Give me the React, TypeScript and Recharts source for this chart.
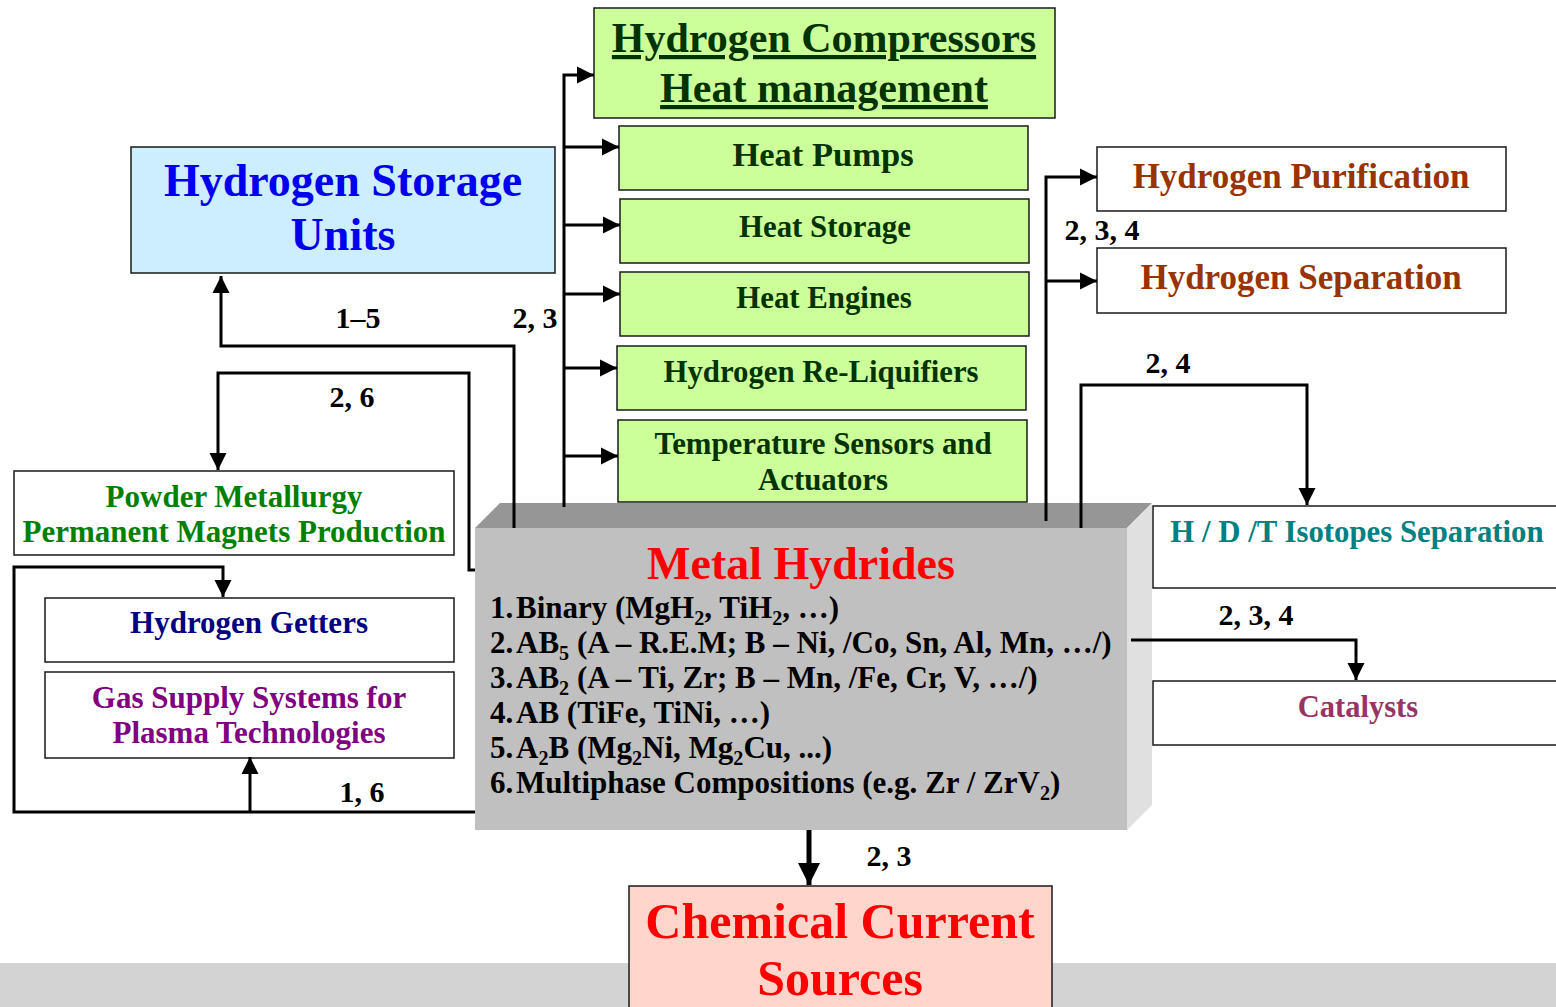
import React from 'react';
import { ComposedChart, XAxis, YAxis, ReferenceArea, ReferenceDot, Line } from 'recharts';

const W = 1556;
const H = 1007;
const FONT = "'Liberation Serif', 'Times New Roman', Times, serif";

type Pt = [number, number];

// boxes in page coordinates
const boxes = [
  { key: 'compressors', x1: 594, y1: 8, x2: 1055, y2: 118 },
  { key: 'heatPumps', x1: 619, y1: 126, x2: 1028, y2: 190 },
  { key: 'heatStorage', x1: 620, y1: 199, x2: 1029, y2: 263 },
  { key: 'heatEngines', x1: 620, y1: 272, x2: 1029, y2: 336 },
  { key: 'reLiquifiers', x1: 617, y1: 346, x2: 1026, y2: 410 },
  { key: 'sensors', x1: 618, y1: 420, x2: 1027, y2: 502 },
  { key: 'storage', x1: 131, y1: 147, x2: 555, y2: 273 },
  { key: 'purification', x1: 1097, y1: 147, x2: 1506, y2: 211 },
  { key: 'separation', x1: 1097, y1: 248, x2: 1506, y2: 313 },
  { key: 'powder', x1: 14, y1: 471, x2: 454, y2: 555 },
  { key: 'getters', x1: 45, y1: 598, x2: 454, y2: 662 },
  { key: 'gasSupply', x1: 45, y1: 672, x2: 454, y2: 758 },
  { key: 'isotopes', x1: 1153, y1: 506, x2: 1580, y2: 588 },
  { key: 'catalysts', x1: 1153, y1: 681, x2: 1580, y2: 745 },
  { key: 'chemical', x1: 629, y1: 886, x2: 1052, y2: 1030 },
];

const hydrideBox = { x1: 475, y1: 528, x2: 1127, y2: 830 };
const bottomBand = { y1: 963, y2: 1007 };

// polylines; the last point is the arrow tip
const connectors: Pt[][] = [
  [[514, 528], [514, 346], [221, 346], [221, 276]],
  [[475, 570], [469, 570], [469, 373], [218, 373], [218, 470]],
  [[564, 507], [564, 75], [594, 75]],
  [[564, 147], [619, 147]],
  [[564, 225], [620, 225]],
  [[564, 294], [620, 294]],
  [[564, 368], [617, 368]],
  [[564, 456], [618, 456]],
  [[1046, 521], [1046, 177], [1097, 177]],
  [[1046, 281], [1097, 281]],
  [[1081, 528], [1081, 385], [1307, 385], [1307, 505]],
  [[1131, 640], [1356, 640], [1356, 680]],
  [[475, 812], [14, 812], [14, 567], [223, 567], [223, 597]],
  [[250, 812], [250, 757]],
];
const outlet: Pt[] = [[809, 830], [809, 885]];

const labels = [
  { group: 'compressors', text: 'Hydrogen Compressors', x: 824, y: 52 },
  { group: 'compressors', text: 'Heat management', x: 824, y: 102 },
  { group: 'heatPumps', text: 'Heat Pumps', x: 823, y: 166 },
  { group: 'heat', text: 'Heat Storage', x: 825, y: 237 },
  { group: 'heat', text: 'Heat Engines', x: 824, y: 308 },
  { group: 'heat', text: 'Hydrogen Re-Liquifiers', x: 821, y: 382 },
  { group: 'heat', text: 'Temperature Sensors and', x: 823, y: 454 },
  { group: 'heat', text: 'Actuators', x: 823, y: 490 },
  { group: 'storage', text: 'Hydrogen Storage', x: 343, y: 196 },
  { group: 'storage', text: 'Units', x: 343, y: 250 },
  { group: 'purify', text: 'Hydrogen Purification', x: 1301, y: 188 },
  { group: 'purify', text: 'Hydrogen Separation', x: 1301, y: 289 },
  { group: 'powder', text: 'Powder Metallurgy', x: 234, y: 507 },
  { group: 'powder', text: 'Permanent Magnets Production', x: 234, y: 542 },
  { group: 'getters', text: 'Hydrogen Getters', x: 249, y: 633 },
  { group: 'gas', text: 'Gas Supply Systems for', x: 249, y: 708 },
  { group: 'gas', text: 'Plasma Technologies', x: 249, y: 743 },
  { group: 'isotopes', text: 'H / D /T Isotopes Separation', x: 1357, y: 542 },
  { group: 'catalysts', text: 'Catalysts', x: 1358, y: 717 },
  { group: 'chemical', text: 'Chemical Current', x: 840, y: 938 },
  { group: 'chemical', text: 'Sources', x: 840, y: 995 },
  { group: 'hydrides', text: 'Metal Hydrides', x: 801, y: 579 },
];

const routeLabels = [
  { text: '1–5', x: 358, y: 328 },
  { text: '2, 3', x: 535, y: 328 },
  { text: '2, 6', x: 352, y: 407 },
  { text: '1, 6', x: 362, y: 802 },
  { text: '2, 3, 4', x: 1102, y: 240 },
  { text: '2, 4', x: 1168, y: 373 },
  { text: '2, 3, 4', x: 1256, y: 625 },
  { text: '2, 3', x: 889, y: 866 },
];

// "_n" marks a subscript
const hydrideClasses = [
  'Binary (MgH_2, TiH_2, …)',
  'AB_5 (A – R.E.M; B – Ni, /Co, Sn, Al, Mn, …/)',
  'AB_2 (A – Ti, Zr; B – Mn, /Fe, Cr, V, …/)',
  'AB (TiFe, TiNi, …)',
  'A_2B (Mg_2Ni, Mg_2Cu, ...)',
  'Multiphase Compositions (e.g. Zr / ZrV_2)',
];

const boxFill: Record<string, string> = {
  storage: '#cceeff',
  chemical: '#ffd5cc',
};
const greenBoxes = ['compressors', 'heatPumps', 'heatStorage', 'heatEngines', 'reLiquifiers', 'sensors'];

const groupStyle: Record<string, { size: number; color: string; underline?: boolean }> = {
  compressors: { size: 42, color: '#003300', underline: true },
  heatPumps: { size: 34.5, color: '#003300' },
  heat: { size: 30.8, color: '#003300' },
  storage: { size: 46, color: '#0000ee' },
  purify: { size: 35, color: '#993300' },
  powder: { size: 31, color: '#008000' },
  getters: { size: 31, color: '#000080' },
  gas: { size: 31, color: '#800080' },
  isotopes: { size: 30.8, color: '#008080' },
  catalysts: { size: 30.5, color: '#993366' },
  chemical: { size: 50, color: '#ff0000' },
  hydrides: { size: 46, color: '#ff0000' },
};

const rich = (s: string, size: number) => {
  const parts = s.split(/_(\d)/);
  const shift = size * 0.22;
  return parts.map((p, i) =>
    i % 2 ? (
      <tspan key={i} fontSize={size * 0.65} dy={shift}>{p}</tspan>
    ) : (
      <tspan key={i} dy={i > 0 ? -shift : 0}>{p}</tspan>
    ),
  );
};

const arrowHead = (tip: Pt, prev: Pt, len: number, half: number, key: string) => {
  const dx = tip[0] - prev[0];
  const dy = tip[1] - prev[1];
  const d = Math.hypot(dx, dy) || 1;
  const ux = dx / d;
  const uy = dy / d;
  return (cx: number, cy: number) => {
    const bx = cx - ux * len;
    const by = cy - uy * len;
    const pts = `${cx},${cy} ${bx - uy * half},${by + ux * half} ${bx + uy * half},${by - ux * half}`;
    return <polygon key={key} points={pts} fill="#000" />;
  };
};

const hydrideShape = (p: any) => {
  const { x, y, width, height } = p;
  const d = 25;
  return (
    <g>
      <polygon points={`${x},${y} ${x + d},${y - d} ${x + width + d},${y - d} ${x + width},${y}`} fill="#969696" />
      <polygon
        points={`${x + width},${y} ${x + width + d},${y - d} ${x + width + d},${y + height - d} ${x + width},${y + height}`}
        fill="#e0e0e0"
      />
      <rect x={x} y={y} width={width} height={height} fill="#c0c0c0" />
    </g>
  );
};

const renderConnector = (pts: Pt[], i: number, heavy: boolean) => {
  const data = pts.map(([x, y]) => ({ x, y }));
  const last = pts.length - 1;
  const head = arrowHead(pts[last], pts[last - 1], heavy ? 22 : 17, heavy ? 11 : 8.5, `h${i}`);
  return (
    <Line
      key={`c${i}`}
      data={data}
      dataKey="y"
      type="linear"
      stroke="#000"
      strokeWidth={heavy ? 5 : 3}
      strokeLinejoin="miter"
      isAnimationActive={false}
      activeDot={false}
      legendType="none"
      dot={(p: any) => (p.index === last ? head(p.cx, p.cy) : <g key={`d${i}-${p.index}`} />)}
    />
  );
};

export default function App() {
  return (
    <div style={{ position: 'absolute', left: 0, top: 0, width: W, height: H, background: '#fff', overflow: 'hidden' }}>
      <ComposedChart width={W} height={H} margin={{ top: 0, right: 0, bottom: 0, left: 0 }}>
        <XAxis type="number" dataKey="x" domain={[0, W]} allowDataOverflow hide />
        <YAxis type="number" dataKey="y" domain={[0, H]} allowDataOverflow reversed hide />
        <ReferenceArea
          x1={0}
          x2={W}
          y1={bottomBand.y1}
          y2={bottomBand.y2}
          fill="#d3d3d3"
          fillOpacity={1}
          stroke="none"
          ifOverflow="visible"
        />
        {boxes.map((b) => (
          <ReferenceArea
            key={b.key}
            x1={b.x1}
            x2={b.x2}
            y1={b.y1}
            y2={b.y2}
            fill={greenBoxes.includes(b.key) ? '#ccff99' : boxFill[b.key] || '#ffffff'}
            fillOpacity={1}
            stroke="#1a1a1a"
            strokeWidth={1.5}
            ifOverflow="visible"
          />
        ))}
        <ReferenceArea
          x1={hydrideBox.x1}
          x2={hydrideBox.x2}
          y1={hydrideBox.y1}
          y2={hydrideBox.y2}
          ifOverflow="visible"
          shape={hydrideShape}
        />
        {connectors.map((c, i) => renderConnector(c, i, false))}
        {renderConnector(outlet, 99, true)}
        {labels.map((l, i) => {
          const st = groupStyle[l.group];
          return (
            <ReferenceDot
              key={`l${i}`}
              x={l.x}
              y={l.y}
              ifOverflow="visible"
              shape={(p: any) => (
                <text
                  x={p.cx}
                  y={p.cy}
                  textAnchor="middle"
                  fontFamily={FONT}
                  fontWeight="bold"
                  fontSize={st.size}
                  fill={st.color}
                  style={
                    st.underline
                      ? { textDecoration: 'underline', textDecorationThickness: '3px', textUnderlineOffset: '5px' }
                      : undefined
                  }
                >
                  {l.text}
                </text>
              )}
            />
          );
        })}
        {routeLabels.map((l, i) => (
          <ReferenceDot
            key={`r${i}`}
            x={l.x}
            y={l.y}
            ifOverflow="visible"
            shape={(p: any) => (
              <text x={p.cx} y={p.cy} textAnchor="middle" fontFamily={FONT} fontWeight="bold" fontSize={30} fill="#000">
                {l.text}
              </text>
            )}
          />
        ))}
        {hydrideClasses.map((c, i) => (
          <ReferenceDot
            key={`m${i}`}
            x={490}
            y={618 + i * 35}
            ifOverflow="visible"
            shape={(p: any) => (
              <text x={p.cx} y={p.cy} fontFamily={FONT} fontWeight="bold" fontSize={31} fill="#000">
                <tspan>{`${i + 1}.`}</tspan>
                <tspan x={p.cx + 26}>{rich(c, 31)}</tspan>
              </text>
            )}
          />
        ))}
      </ComposedChart>
    </div>
  );
}
